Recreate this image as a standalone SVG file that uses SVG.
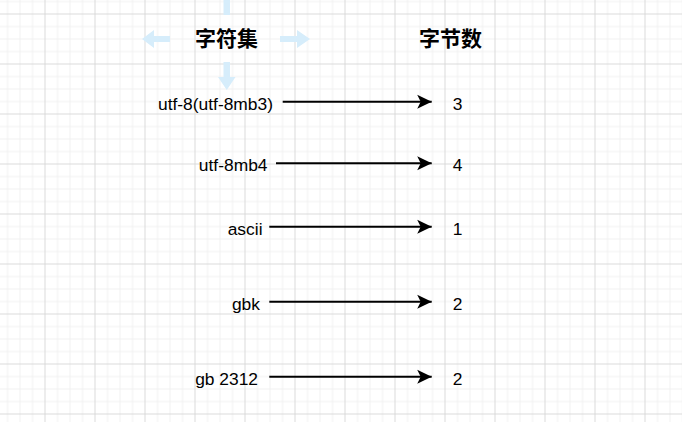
<svg xmlns="http://www.w3.org/2000/svg" width="682" height="422" viewBox="0 0 682 422">
  <defs>
    <pattern id="grid" patternUnits="userSpaceOnUse" x="-5.5" y="13.5" width="50" height="50">
      <path d="M0,13 H50 M0,25.5 H50 M0,38 H50 M13,0 V50 M25.5,0 V50 M38,0 V50" fill="none" stroke="#f0f0f0" stroke-width="1"/>
      <path d="M0,0.5 H50 M0.5,0 V50" fill="none" stroke="#dadada" stroke-width="1"/>
    </pattern>
    <marker id="arr" markerUnits="userSpaceOnUse" markerWidth="16" markerHeight="16" viewBox="0 0 16 16" refX="15" refY="8" orient="auto">
      <path d="M0.5,1 L15,8 L0.5,15 L4,8 Z" fill="#000"/>
    </marker>
    <style>
      .t { font-family: "Liberation Sans", Arial, sans-serif; font-size: 17.4px; fill: #000; text-anchor: end; }
      .h { font-family: "Noto Sans CJK SC", "Noto Sans", sans-serif; font-size: 21px; font-weight: bold; fill: #000; text-anchor: middle; }
      .n { text-anchor: middle; }
      .c { stroke: #000; stroke-width: 2; fill: none; marker-end: url(#arr); }
      .hov { fill: #d6edfb; }
    </style>
  </defs>
  <rect width="682" height="422" fill="#fff"/>
  <rect width="682" height="422" fill="url(#grid)"/>

  <g id="hover-arrows">
    <path class="hov" d="M170,36 V42 H154 V48 L142,39 L154,30 V36 Z"/>
    <path class="hov" d="M280,36 V42 H297 V48 L310,39 L297,30 V36 Z"/>
    <path class="hov" d="M223.5,62 H230 V77 H235.5 L226.75,90 L218,77 H223.5 Z"/>
    <path class="hov" d="M223.5,15 H230 V0 H223.5 Z"/>
  </g>

  <g id="title-charset"><text class="h" x="226.5" y="46">字符集</text></g>
  <g id="title-bytes"><text class="h" x="450.5" y="46">字节数</text></g>

  <g id="node-utf8"><text class="t" x="273" y="109.5">utf-8(utf-8mb3)</text></g>
  <g id="node-utf8mb4"><text class="t" x="267.5" y="171">utf-8mb4</text></g>
  <g id="node-ascii"><text class="t" x="262.5" y="234.5">ascii</text></g>
  <g id="node-gbk"><text class="t" x="260" y="309.5">gbk</text></g>
  <g id="node-gb2312"><text class="t" x="258" y="384.5">gb 2312</text></g>

  <g id="num-3"><text class="t n" x="457.5" y="109.5">3</text></g>
  <g id="num-4"><text class="t n" x="457.5" y="171">4</text></g>
  <g id="num-1"><text class="t n" x="457.5" y="234.5">1</text></g>
  <g id="num-2a"><text class="t n" x="457.5" y="309.5">2</text></g>
  <g id="num-2b"><text class="t n" x="457.5" y="384.5">2</text></g>

  <g id="connectors">
    <line class="c" x1="282.7" y1="101.7" x2="431.7" y2="101.7"/>
    <line class="c" x1="276" y1="163.3" x2="431.7" y2="163.3"/>
    <line class="c" x1="269.3" y1="226.7" x2="431.7" y2="226.7"/>
    <line class="c" x1="269.3" y1="301.7" x2="431.7" y2="301.7"/>
    <line class="c" x1="269.3" y1="376.7" x2="431.7" y2="376.7"/>
  </g>
</svg>
